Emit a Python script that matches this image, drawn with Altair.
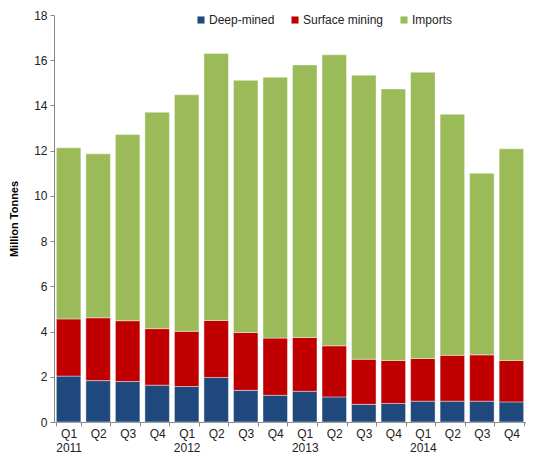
import altair as alt
import pandas as pd

quarters = ["Q1 2011", "Q2 2011", "Q3 2011", "Q4 2011",
            "Q1 2012", "Q2 2012", "Q3 2012", "Q4 2012",
            "Q1 2013", "Q2 2013", "Q3 2013", "Q4 2013",
            "Q1 2014", "Q2 2014", "Q3 2014", "Q4 2014"]
deep_mined = [2.03, 1.83, 1.79, 1.63, 1.57, 1.97, 1.40, 1.18,
              1.36, 1.11, 0.78, 0.82, 0.92, 0.92, 0.92, 0.89]
surface_mining = [2.53, 2.78, 2.69, 2.50, 2.44, 2.52, 2.56, 2.53,
                  2.38, 2.26, 2.00, 1.90, 1.89, 2.03, 2.05, 1.83]
imports = [7.57, 7.25, 8.23, 9.57, 10.46, 11.81, 11.15, 11.54,
           12.05, 12.87, 12.56, 12.01, 12.66, 10.66, 8.03, 9.36]

series = ["Deep-mined", "Surface mining", "Imports"]
colors = ["#1F497D", "#C00000", "#9BBB59"]

rows = []
for i, q in enumerate(quarters):
    for k, (name, vals) in enumerate(zip(series, [deep_mined, surface_mining, imports])):
        rows.append({"quarter": q, "series": name, "value": vals[i], "rank": k})
df = pd.DataFrame(rows)

chart = alt.Chart(df).mark_bar(stroke="white", strokeWidth=0.6, strokeOpacity=0.7).encode(
    x=alt.X("quarter:N", sort=quarters,
            scale=alt.Scale(paddingInner=0.17, paddingOuter=0.08),
            axis=alt.Axis(title=None, labelAngle=0, labelFontSize=12, labelColor="#222",
                          labelFont="Liberation Sans", tickBand="extent", tickSize=4,
                          tickColor="#888", domainColor="#888", labelPadding=2,
                          labelLineHeight=14,
                          labelExpr="indexof(datum.label, 'Q1') == 0 ? split(datum.label, ' ') : slice(datum.label, 0, 2)")),
    y=alt.Y("value:Q", stack="zero",
            scale=alt.Scale(domain=[0, 18], nice=False),
            axis=alt.Axis(title="Million Tonnes", values=list(range(0, 19, 2)), grid=False,
                          labelFontSize=12, labelColor="#222", labelFont="Liberation Sans",
                          titleFont="Liberation Sans", titleFontSize=11, titleFontWeight="bold",
                          titleColor="#000", titlePadding=14, tickSize=4, tickColor="#888",
                          domainColor="#888", labelPadding=3)),
    color=alt.Color("series:N", scale=alt.Scale(domain=series, range=colors),
                    legend=alt.Legend(title=None, orient="none", direction="horizontal",
                                      legendX=141, legendY=-1, symbolType="square",
                                      symbolSize=50, symbolStrokeWidth=0, labelFontSize=12,
                                      labelFont="Liberation Sans", labelColor="#222",
                                      columnPadding=14, labelOffset=2)),
    order=alt.Order("rank:Q"),
).properties(
    width=472, height=407,
    padding={"left": 46, "top": 7, "right": 0, "bottom": 33},
    autosize=alt.AutoSizeParams(type="none"),
).configure_view(stroke=None)

chart.save("out.html", embed_options={"renderer": "svg", "actions": False})
